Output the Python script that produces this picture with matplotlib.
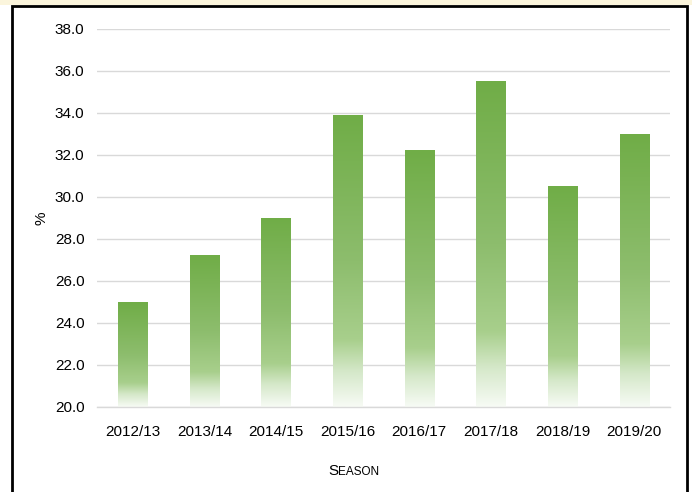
import numpy as np
import matplotlib
matplotlib.use("Agg")
from matplotlib import pyplot as plt
from matplotlib.colors import LinearSegmentedColormap
from matplotlib.patches import Rectangle

seasons = ['2012/13', '2013/14', '2014/15', '2015/16', '2016/17', '2017/18', '2018/19', '2019/20']
values = [25.0, 27.2, 29.0, 33.9, 32.2, 35.5, 30.5, 33.0]
yticks = [20, 22, 24, 26, 28, 30, 32, 34, 36, 38]

plt.rcParams['font.family'] = ['Liberation Sans Narrow', 'Liberation Sans', 'DejaVu Sans']

fig = plt.figure(figsize=(6.92, 4.92), dpi=100)
fig.patch.set_facecolor('white')

# faint cream strip above the frame, then the black frame
fig.patches.append(Rectangle((0, 487 / 492), 1, 5 / 492, transform=fig.transFigure,
                             facecolor='#fbf5dc', edgecolor='none', zorder=-2))
fig.patches.append(Rectangle((12 / 692, -0.05), 675 / 692, 1.05 - 6 / 492,
                             transform=fig.transFigure, facecolor='white',
                             edgecolor='black', linewidth=2, zorder=-1))

ax = fig.add_axes([97 / 692, 85 / 492, 573 / 692, 378 / 492])
ax.set_facecolor('none')

# gradient: Excel green at top fading to almost white at bottom
cmap = LinearSegmentedColormap.from_list('grad', [
    (0.0, '#70ad47'),
    (0.5, '#8dbd6d'),
    (0.77, '#a8cf8c'),
    (0.88, '#d5e8c9'),
    (1.0, '#f7fbf5'),
])
grad = np.linspace(0, 1, 256).reshape(-1, 1)

x = np.arange(len(seasons))
bars = ax.bar(x, np.array(values) - 20, bottom=20, width=0.41, color='none', zorder=2)
for b in bars:
    x0, y0 = b.get_x(), b.get_y()
    w, h = b.get_width(), b.get_height()
    ax.imshow(grad, cmap=cmap, aspect='auto', extent=(x0, x0 + w, y0, y0 + h),
              origin='upper', zorder=2, interpolation='bilinear')

ax.set_xlim(-0.5, len(seasons) - 0.5)
ax.set_ylim(20, 38)
ax.set_yticks(yticks)
ax.set_yticklabels(['%.1f' % v for v in yticks])
ax.set_xticks(x)
ax.set_xticklabels(seasons)
ax.tick_params(axis='both', length=0, labelsize=11, colors='black')
ax.tick_params(axis='y', pad=9)
ax.tick_params(axis='x', pad=13)
ax.grid(axis='y', color='#d9d9d9', linewidth=1, zorder=0)
ax.set_axisbelow(True)
for s in ['top', 'right', 'left']:
    ax.spines[s].set_visible(False)
ax.spines['bottom'].set_color('#d9d9d9')
ax.spines['bottom'].set_linewidth(1)

fig.text(41 / 692, 1 - 218 / 492, '%', rotation=90, ha='center', va='center', fontsize=11)

# small-caps "Season"
t1 = fig.text(338 / 692, 1 - 475 / 492, 'S', ha='right', va='baseline', fontsize=11)
ax.annotate('EASON', xy=(1, 0), xycoords=t1, ha='left', va='bottom', fontsize=8.5,
            annotation_clip=False)

fig.savefig('out.png', dpi=100)
